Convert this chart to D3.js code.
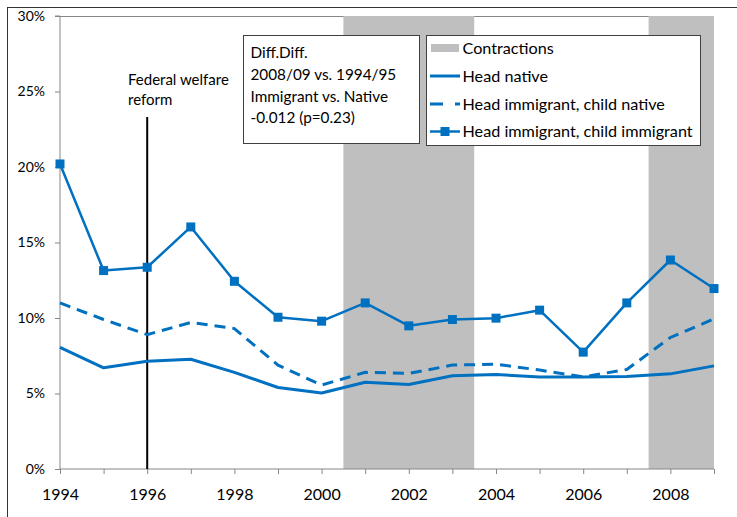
<!DOCTYPE html>
<html>
<head>
<meta charset="utf-8">
<script src="https://cdn.jsdelivr.net/npm/d3@7"></script>
<style>
  html, body { margin: 0; padding: 0; background: #fff; }
  svg { display: block; }
  text { font-family: Lato, "Open Sans", sans-serif; fill: #000; }
</style>
</head>
<body>
<svg id="chart" width="737" height="517"></svg>
<script>
const years = [1994,1995,1996,1997,1998,1999,2000,2001,2002,2003,2004,2005,2006,2007,2008,2009];
const headNative = [0.0805,0.067,0.0714,0.0727,0.064,0.054,0.0503,0.0575,0.056,0.0617,0.0626,0.061,0.061,0.0613,0.063,0.0683];
const headImmChildNative = [0.110,0.099,0.089,0.097,0.093,0.0688,0.0556,0.064,0.0633,0.0688,0.0694,0.0655,0.061,0.0659,0.0871,0.0994];
const headImmChildImm = [0.202,0.1314,0.1336,0.1603,0.1243,0.1005,0.0979,0.110,0.0948,0.099,0.0999,0.1052,0.0774,0.110,0.1384,0.1195];
const contractions = [[2000.5, 2003.5], [2007.5, 2009]];
const yTicks = [0, 0.05, 0.10, 0.15, 0.20, 0.25, 0.30];
const xLabelYears = [1994,1996,1998,2000,2002,2004,2006,2008];
const reformYear = 1996;
const seriesNames = ["Head native", "Head immigrant, child native", "Head immigrant, child immigrant"];
const noteLines = ["Diff.Diff.", "2008/09 vs. 1994/95", "Immigrant vs. Native", "-0.012 (p=0.23)"];
const reformLines = ["Federal welfare", "reform"];

const blue = "#0070C0";
const grey = "#BFBFBF";
const axisGrey = "#868686";

const svg = d3.select("#chart");
const x = d3.scaleLinear().domain([1994, 2009]).range([60, 714]);
const y = d3.scaleLinear().domain([0, 0.30]).range([469, 16]);

// outer frame
svg.append("line").attr("x1", 7).attr("x2", 737).attr("y1", 7.5).attr("y2", 7.5).attr("stroke", "#333").attr("stroke-width", 1);
svg.append("line").attr("x1", 7.5).attr("x2", 7.5).attr("y1", 7).attr("y2", 517).attr("stroke", "#333").attr("stroke-width", 1);

// top plot border
svg.append("line").attr("x1", x(1994)).attr("x2", x(2009)).attr("y1", y(0.30) + 0.5).attr("y2", y(0.30) + 0.5)
  .attr("stroke", axisGrey).attr("stroke-width", 1);

// contraction shading
svg.append("g").selectAll("rect").data(contractions).join("rect")
  .attr("x", d => x(d[0])).attr("width", d => x(d[1]) - x(d[0]))
  .attr("y", y(0.30)).attr("height", y(0) - y(0.30))
  .attr("fill", grey);

// axes
const yAxis = svg.append("g").attr("transform", `translate(${x(1994)},0)`)
  .call(d3.axisLeft(y).tickValues(yTicks).tickFormat(d3.format(".0%")).tickSize(5).tickPadding(10));
yAxis.selectAll("text").style("font-size", "14px").style("font-family", "Lato, sans-serif");

const xAxis = svg.append("g").attr("transform", `translate(0,${y(0)})`)
  .call(d3.axisBottom(x).tickValues(years).tickFormat(d => xLabelYears.includes(d) ? String(d) : "").tickSize(5).tickPadding(15));
xAxis.selectAll("text").style("font-size", "16px").style("font-family", "Lato, sans-serif");

[yAxis, xAxis].forEach(a => {
  a.select(".domain").attr("stroke", axisGrey);
  a.selectAll(".tick line").attr("stroke", axisGrey);
});
yAxis.select(".domain").attr("d", `M-5,${y(0.30)}H0V${y(0)}`);
xAxis.select(".domain").attr("d", `M${x(1994)},0H${x(2009)}`);

// reform line
svg.append("line").attr("x1", x(reformYear)).attr("x2", x(reformYear)).attr("y1", 117).attr("y2", y(0))
  .attr("stroke", "#000").attr("stroke-width", 2);
svg.append("text").attr("x", 128).attr("y", 80).style("font-size", "15px")
  .selectAll("tspan").data(reformLines).join("tspan")
  .attr("x", 128).attr("dy", (d, i) => i === 0 ? "0.35em" : "20px").text(d => d);

// lines
const line = d3.line().x((d, i) => x(years[i])).y(d => y(d));
svg.append("path").datum(headNative).attr("d", line).attr("fill", "none")
  .attr("stroke", blue).attr("stroke-width", 3).attr("stroke-linejoin", "round");
svg.append("path").datum(headImmChildNative).attr("d", line).attr("fill", "none")
  .attr("stroke", blue).attr("stroke-width", 3).attr("stroke-dasharray", "11,7");
svg.append("path").datum(headImmChildImm).attr("d", line).attr("fill", "none")
  .attr("stroke", blue).attr("stroke-width", 2.5).attr("stroke-linejoin", "round");
svg.append("g").selectAll("rect").data(headImmChildImm).join("rect")
  .attr("x", (d, i) => x(years[i]) - 4.5).attr("y", d => y(d) - 4.5)
  .attr("width", 9).attr("height", 9).attr("fill", blue);

// note box
const note = svg.append("g");
note.append("rect").attr("x", 243.5).attr("y", 35.5).attr("width", 176).attr("height", 108)
  .attr("fill", "#fff").attr("stroke", "#404040").attr("stroke-width", 1);
note.selectAll("text").data(noteLines).join("text")
  .attr("x", 250.5).attr("y", (d, i) => 53 + i * 21.7).attr("dy", "0.35em")
  .style("font-size", "15.3px").text(d => d);

// legend
const lg = svg.append("g");
lg.append("rect").attr("x", 426.5).attr("y", 35.5).attr("width", 274).attr("height", 110)
  .attr("fill", "#fff").attr("stroke", "#404040").attr("stroke-width", 1);
const legendNames = ["Contractions"].concat(seriesNames);
const ly = [48, 76, 104, 131.5];
lg.append("rect").attr("x", 431).attr("y", ly[0] - 4).attr("width", 28).attr("height", 8).attr("fill", grey);
lg.append("line").attr("x1", 430).attr("x2", 460).attr("y1", ly[1]).attr("y2", ly[1]).attr("stroke", blue).attr("stroke-width", 3);
lg.append("path").attr("d", `M430,${ly[2]}H443M455,${ly[2]}H460`).attr("stroke", blue).attr("stroke-width", 3);
lg.append("line").attr("x1", 430).attr("x2", 460).attr("y1", ly[3]).attr("y2", ly[3]).attr("stroke", blue).attr("stroke-width", 2.5);
lg.append("rect").attr("x", 445 - 4.5).attr("y", ly[3] - 4.5).attr("width", 9).attr("height", 9).attr("fill", blue);
lg.selectAll("text").data(legendNames).join("text")
  .attr("x", 462.5).attr("y", (d, i) => ly[i]).attr("dy", "0.35em")
  .style("font-size", "16.2px").text(d => d);
</script>
</body>
</html>
